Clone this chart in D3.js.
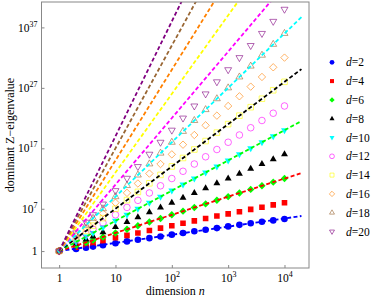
<!DOCTYPE html>
<html>
<head>
<meta charset="utf-8">
<title>Dominant Z-eigenvalue</title>
<script src="https://d3js.org/d3.v7.min.js"></script>
<style>
  body { margin: 0; background: #fff; }
  text { font-family: "Liberation Serif", "DejaVu Serif", serif; fill: #000; }
</style>
</head>
<body>
<div id="chart"></div>
<script>

var width = 371, height = 300;

// tensor orders d, one series each
var orders = [2, 4, 6, 8, 10, 12, 14, 16, 18, 20];
var colors = ["#0000ff", "#ff0000", "#00ff00", "#000000", "#00ffff", "#ff00ff", "#ffff00", "#ff8000", "#996633", "#800080"];
var shapes = ["circle", "square", "diamond", "up", "down", "circle", "square", "diamond", "up", "down"];
var filled = [true, true, true, true, true, false, false, false, false, false];

// dimensions n
var dims = [1, 2, 3, 4, 6, 10, 16, 25, 40, 63, 100, 158, 251, 398, 631, 1000, 1585, 2512, 3981, 6310, 10000];

// log10 of the dominant Z-eigenvalue
var exp2  = [0, 0.35, 0.57, 0.74, 0.98, 1.3, 1.6, 1.87, 2.14, 2.42, 2.72, 3.0, 3.27, 3.53, 3.8, 4.08, 4.34, 4.6, 4.84, 5.07, 5.3];
var exp4  = [0, 0.65, 1.0, 1.3, 1.7, 2.2, 2.6, 3.0, 3.4, 3.8, 4.2, 4.6, 5.0, 5.4, 5.8, 6.15, 6.5, 6.9, 7.25, 7.65, 8.0];
var exp6  = [0, 0.9, 1.43, 1.81, 2.33, 3.0, 3.61, 4.19, 4.81, 5.4, 6.0, 6.6, 7.2, 7.8, 8.4, 9.0, 9.6, 10.2, 10.8, 11.4, 12.0];
var exp8  = [0, 1.2, 1.91, 2.41, 3.11, 4.0, 4.82, 5.59, 6.41, 7.2, 8.0, 8.8, 9.6, 10.4, 11.2, 12.0, 12.8, 13.6, 14.4, 15.2, 16.0];
var exp10 = [0, 1.5, 2.39, 3.01, 3.89, 5.0, 6.02, 6.99, 8.01, 9.0, 10.0, 11.0, 12.0, 13.0, 14.0, 15.0, 16.0, 17.0, 18.0, 19.0, 20.0];
var exp12 = [0, 1.81, 2.86, 3.61, 4.67, 6.0, 7.22, 8.39, 9.61, 10.8, 12.0, 13.2, 14.4, 15.6, 16.8, 18.0, 19.2, 20.4, 21.6, 22.8, 24.0];
var exp14 = [0, 2.11, 3.34, 4.21, 5.45, 7.0, 8.43, 9.79, 11.21, 12.6, 14.0, 15.4, 16.8, 18.2, 19.6, 21.0, 22.4, 23.8, 25.2, 26.6, 28.0];
var exp16 = [0, 2.41, 3.82, 4.82, 6.23, 8.0, 9.63, 11.18, 12.82, 14.4, 16.0, 17.6, 19.2, 20.8, 22.4, 24.0, 25.6, 27.2, 28.8, 30.4, 32.0];
var exp18 = [0, 2.71, 4.29, 5.42, 7.0, 9.0, 10.84, 12.58, 14.42, 16.2, 18.0, 19.8, 21.6, 23.4, 25.2, 27.0, 28.8, 30.6, 32.4, 34.2, 36.0];
var exp20 = [0, 3.01, 4.77, 6.02, 7.78, 10.0, 12.04, 13.98, 16.02, 18.0, 20.0, 22.0, 24.0, 26.0, 28.0, 30.0, 32.0, 34.0, 36.0, 38.0, 40.0];
var exponents = [exp2, exp4, exp6, exp8, exp10, exp12, exp14, exp16, exp18, exp20];

// dashed guide lines: from (1, 1) to (lineEndN, 10^lineEndExp)
var lineEndN = 20000;
var lineEndExp = [5.8, 12.9, 21.5, 30.1, 38.7, 47.3, 55.9, 64.5, 73.1, 81.7];

var xTicks = [0, 1, 2, 3, 4];      // powers of ten
var yTicks = [0, 7, 17, 27, 37];

var plot = { left: 41.5, right: 309, top: 2, bottom: 268 };

var x = d3.scaleLog()
    .domain([Math.pow(10, -0.313), Math.pow(10, 4.435)])
    .range([plot.left, plot.right]);
var y = d3.scaleLog()
    .domain([Math.pow(10, -2.8), Math.pow(10, 41.2)])
    .range([plot.bottom, plot.top]);

var svg = d3.select("#chart").append("svg")
    .attr("width", width)
    .attr("height", height);

svg.append("defs").append("clipPath")
    .attr("id", "clip")
  .append("rect")
    .attr("x", plot.left)
    .attr("y", plot.top)
    .attr("width", plot.right - plot.left)
    .attr("height", plot.bottom - plot.top);

function markerPath(shape, s) {
  var h = s * 0.866, v = s * 0.5;
  switch (shape) {
    case "circle":  return "M" + s + ",0A" + s + "," + s + " 0 1,1 " + (-s) + ",0A" + s + "," + s + " 0 1,1 " + s + ",0Z";
    case "square":  return "M" + (-s) + "," + (-s) + "H" + s + "V" + s + "H" + (-s) + "Z";
    case "diamond": return "M0," + (-s) + "L" + s + ",0L0," + s + "L" + (-s) + ",0Z";
    case "up":      return "M0," + (-s) + "L" + h + "," + v + "L" + (-h) + "," + v + "Z";
    case "down":    return "M0," + s + "L" + h + "," + (-v) + "L" + (-h) + "," + (-v) + "Z";
  }
}
var markerSize = { circle: 3.3, square: 2.8, diamond: 3.7, up: 4.0, down: 4.0 };

function styleMarker(sel, i) {
  if (filled[i]) {
    sel.attr("fill", colors[i]).attr("stroke", "none");
  } else {
    sel.attr("fill", "none").attr("stroke", colors[i]).attr("stroke-width", 0.75).attr("stroke-opacity", 0.8);
  }
}

// markers
var gMarks = svg.append("g").attr("clip-path", "url(#clip)");
orders.forEach(function(d_, i_) {
  var pts = dims.map(function(n_, j_) { return [n_, Math.pow(10, exponents[i_][j_])]; });
  gMarks.append("g").selectAll("path")
      .data(pts)
      .enter()
      .append("path")
      .attr("transform", function(p_) { return "translate(" + x(p_[0]) + "," + y(p_[1]) + ")"; })
      .attr("d", markerPath(shapes[i_], markerSize[shapes[i_]]))
      .call(styleMarker, i_);
});

// dashed lines
var line = d3.line()
    .x(function(p_) { return x(p_[0]); })
    .y(function(p_) { return y(p_[1]); });

var gLines = svg.append("g").attr("clip-path", "url(#clip)");
gLines.selectAll("path")
    .data(lineEndExp)
    .enter()
    .append("path")
    .attr("d", function(e_) { return line([[1, 1], [lineEndN, Math.pow(10, e_)]]); })
    .attr("fill", "none")
    .attr("stroke", function(e_, i_) { return colors[i_]; })
    .attr("stroke-width", 1.8)
    .attr("stroke-dasharray", "4,2.4");

// frame
svg.append("rect")
    .attr("x", plot.left)
    .attr("y", plot.top)
    .attr("width", plot.right - plot.left)
    .attr("height", plot.bottom - plot.top)
    .attr("fill", "none")
    .attr("stroke", "#888")
    .attr("stroke-width", 1);

function powerLabel(text_, e_) {
  text_.text(null);
  if (e_ === 0) { text_.append("tspan").text("1"); return; }
  text_.append("tspan").text("10");
  if (e_ !== 1) {
    text_.append("tspan").attr("dy", -5).attr("font-size", 8).text(e_);
  }
}

// x axis
var xAxis = svg.append("g")
    .attr("transform", "translate(0," + plot.bottom + ")")
    .call(d3.axisBottom(x)
        .tickValues(xTicks.map(function(e_) { return Math.pow(10, e_); }))
        .tickSize(-3)
        .tickPadding(6));
xAxis.select(".domain").remove();
xAxis.selectAll(".tick line").attr("stroke", "#888");
xAxis.selectAll(".tick text")
    .attr("font-size", 11.5)
    .attr("font-family", "Liberation Serif")
    .attr("fill", "#000")
    .each(function(v_, i_) { powerLabel(d3.select(this), xTicks[i_]); });

// y axis
var yAxis = svg.append("g")
    .attr("transform", "translate(" + plot.left + ",0)")
    .call(d3.axisLeft(y)
        .tickValues(yTicks.map(function(e_) { return Math.pow(10, e_); }))
        .tickSize(-3)
        .tickPadding(4));
yAxis.select(".domain").remove();
yAxis.selectAll(".tick line").attr("stroke", "#888");
yAxis.selectAll(".tick text")
    .attr("font-size", 11.5)
    .attr("font-family", "Liberation Serif")
    .attr("fill", "#000")
    .each(function(v_, i_) { powerLabel(d3.select(this), yTicks[i_]); });

// axis titles
var xTitle = svg.append("text")
    .attr("x", (plot.left + plot.right) / 2)
    .attr("y", 295)
    .attr("text-anchor", "middle")
    .attr("font-size", 12);
xTitle.append("tspan").text("dimension ");
xTitle.append("tspan").attr("font-style", "italic").text("n");

svg.append("text")
    .attr("transform", "translate(14," + ((plot.top + plot.bottom) / 2) + ") rotate(-90)")
    .attr("text-anchor", "middle")
    .attr("font-size", 12)
    .text("dominant Z\u2212eigenvalue");

// legend
var legend = svg.selectAll(".legend")
    .data(orders)
    .enter()
    .append("g")
    .attr("class", "legend")
    .attr("transform", function(d_, i_) { return "translate(332," + (62.3 + 18.8 * i_) + ")"; });

legend.append("path")
    .attr("d", function(d_, i_) { return markerPath(shapes[i_], markerSize[shapes[i_]] * 0.72); })
    .each(function(d_, i_) { d3.select(this).call(styleMarker, i_); });

var legendText = legend.append("text")
    .attr("x", 14)
    .attr("y", 4)
    .attr("font-size", 11.5);
legendText.append("tspan").attr("font-style", "italic").text("d");
legendText.append("tspan").text(function(d_) { return "=" + d_; });

</script>
</body>
</html>
